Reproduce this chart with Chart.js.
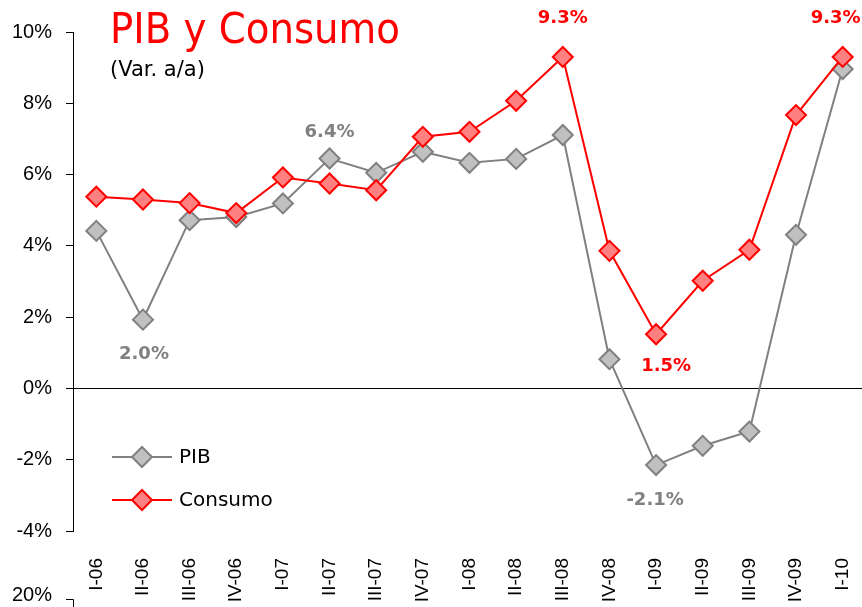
<!DOCTYPE html>
<html>
<head>
<meta charset="utf-8">
<script src="https://cdn.jsdelivr.net/npm/chart.js@4.4.1/dist/chart.umd.min.js"></script>
<style>
html,body{margin:0;padding:0;width:862px;height:607px;overflow:hidden;background:#fff}
#wrap{position:relative;width:866px;height:640px}
#title{position:absolute;left:110px;top:7px;font-family:'DejaVu Sans Condensed','DejaVu Sans',sans-serif;font-stretch:condensed;font-size:43px;line-height:1;color:#ff0000;white-space:nowrap}
#sub{position:absolute;left:110px;top:59px;font-family:'DejaVu Sans',sans-serif;font-size:21px;line-height:1;color:#000;white-space:nowrap}
canvas{position:absolute;left:0;top:0}
</style>
</head>
<body>
<div id="wrap">
<canvas id="c" width="866" height="640"></canvas>
<div id="title">PIB y Consumo</div>
<div id="sub">(Var. a/a)</div>
</div>
<script>
// ---- data ----
const categories = ['I-06','II-06','III-06','IV-06','I-07','II-07','III-07','IV-07','I-08','II-08','III-08','IV-08','I-09','II-09','III-09','IV-09','I-10'];
const pib      = [4.42, 1.93, 4.72, 4.81, 5.19, 6.45, 6.05, 6.64, 6.33, 6.44, 7.11, 0.82, -2.15, -1.61, -1.21, 4.31, 8.96];
const consumo  = [5.38, 5.30, 5.20, 4.92, 5.92, 5.75, 5.56, 7.06, 7.20, 8.07, 9.30, 3.86, 1.52, 3.02, 3.89, 7.67, 9.30];
const yTickValues = [-4, -2, 0, 2, 4, 6, 8, 10];
const pibLabelIndex = [1, 5, 12];
const pibLabelText  = ['2.0%', '6.4%', '-2.1%'];
const conLabelIndex = [10, 12, 16];
const conLabelText  = ['9.3%', '1.5%', '9.3%'];
const seriesNames = ['PIB', 'Consumo'];
const extraTickText = '20%';

// ---- styles (kept apart from data) ----
const pibLabelOffset = [{dx:1,dy:35},{dx:0,dy:-26},{dx:-1,dy:35}];
const conLabelOffset = [{dx:0,dy:-39},{dx:10,dy:32},{dx:-7,dy:-39}];
const GREY='#808080', GREY_FILL='#c0c0c0', RED='#ff0000', RED_FILL='#ff8080';

const overlay = {
  id:'overlay',
  afterDatasetsDraw(chart){
    const ctx = chart.ctx, ca = chart.chartArea;
    ctx.save();
    ctx.font = 'bold 18px "DejaVu Sans"';
    ctx.textAlign='center'; ctx.textBaseline='middle';
    const lab = (dsIdx, idxs, texts, offs, color) => {
      const meta = chart.getDatasetMeta(dsIdx);
      idxs.forEach((i,k)=>{
        const p = meta.data[i];
        ctx.fillStyle = color;
        ctx.fillText(texts[k], p.x + offs[k].dx, p.y + offs[k].dy);
      });
    };
    lab(0, pibLabelIndex, pibLabelText, pibLabelOffset, GREY);
    lab(1, conLabelIndex, conLabelText, conLabelOffset, RED);

    // legend inside plot
    const rows = [ca.bottom-74, ca.bottom-31];
    chart.data.datasets.forEach((ds,k)=>{
      const y = rows[k], x0 = ca.left+39, x1 = ca.left+99, xm = (x0+x1)/2;
      ctx.strokeStyle = ds.borderColor; ctx.lineWidth = ds.borderWidth;
      ctx.beginPath(); ctx.moveTo(x0,y); ctx.lineTo(x1,y); ctx.stroke();
      ctx.fillStyle = ds.pointBackgroundColor; ctx.strokeStyle = ds.pointBorderColor; ctx.lineWidth = 2;
      ctx.beginPath();
      ctx.moveTo(xm, y-10); ctx.lineTo(xm+10, y); ctx.lineTo(xm, y+10); ctx.lineTo(xm-10, y); ctx.closePath();
      ctx.fill(); ctx.stroke();
      ctx.fillStyle = '#000'; ctx.font = '20px "DejaVu Sans"'; ctx.textAlign='left';
      ctx.fillText(seriesNames[k], x1+7, y+1);
    });

    // top of the next chart's axis peeking in at the bottom
    ctx.fillStyle='#000'; ctx.font='20px "Liberation Sans"'; ctx.textAlign='right'; ctx.textBaseline='middle';
    ctx.fillText(extraTickText, ca.left-21, ca.bottom+64);
    ctx.strokeStyle='#000'; ctx.lineWidth=1;
    ctx.beginPath(); ctx.moveTo(ca.left-7, ca.bottom+68.5); ctx.lineTo(ca.left+0.5, ca.bottom+68.5); ctx.lineTo(ca.left+0.5, ca.bottom+120); ctx.stroke();
    ctx.restore();
  }
};

new Chart(document.getElementById('c'), {
  type:'line',
  data:{
    labels: categories,
    datasets:[
      {label:seriesNames[0], data:pib, borderColor:GREY, borderWidth:2, tension:0,
       pointStyle:'rectRot', pointRadius:10, pointHoverRadius:10, pointBackgroundColor:GREY_FILL, pointBorderColor:GREY, pointBorderWidth:2, order:1},
      {label:seriesNames[1], data:consumo, borderColor:RED, borderWidth:2, tension:0,
       pointStyle:'rectRot', pointRadius:10, pointHoverRadius:10, pointBackgroundColor:RED_FILL, pointBorderColor:RED, pointBorderWidth:2, order:0}
    ]
  },
  options:{
    responsive:false, animation:false, devicePixelRatio:1,
    layout:{autoPadding:false, padding:{top:32,right:0,bottom:0,left:0}},
    plugins:{legend:{display:false}, tooltip:{enabled:false}, title:{display:false}},
    scales:{
      x:{
        offset:true,
        grid:{display:false, drawTicks:false},
        border:{display:false},
        ticks:{autoSkip:false, maxRotation:90, minRotation:90, padding:27, color:'#000',
               font:{family:'Liberation Sans', size:19}},
        afterFit(s){ s.height = 109; s.paddingLeft = 0; s.paddingRight = 0; }
      },
      y:{
        min:-4, max:10,
        afterBuildTicks(s){ s.ticks = yTickValues.map(v=>({value:v})); },
        grid:{
          color:(c)=> (c.tick && c.tick.value===0) ? '#000' : 'rgba(0,0,0,0)',
          tickColor:'#000', tickLength:7, drawTicks:true, lineWidth:1
        },
        border:{display:true, color:'#000', width:1},
        ticks:{padding:14, color:'#000', font:{family:'Liberation Sans', size:20},
               callback:(v)=> v + '%'},
        afterFit(s){ s.width = 73; s.paddingTop = 0; s.paddingBottom = 0; }
      }
    }
  },
  plugins:[overlay]
});
</script>
</body>
</html>
